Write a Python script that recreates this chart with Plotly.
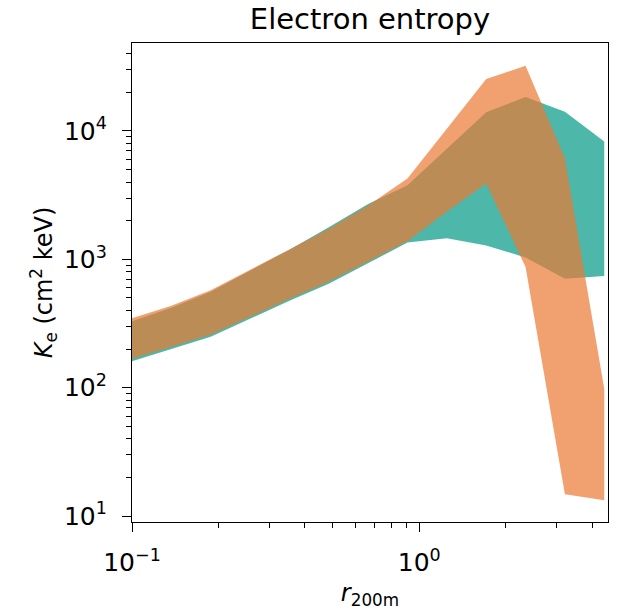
import plotly.graph_objects as go

# radius in units of r_200m
r_vals = [0.1, 0.1371, 0.1879, 0.2576, 0.3532, 0.4842, 0.6637, 0.9099,
          1.2474, 1.7100, 2.3442, 3.2137, 4.4055]

# teal band (lower / upper)
teal_low = [161, 200, 249, 345, 475, 645, 930, 1350, 1460, 1280, 1035, 705, 740]
teal_high = [330, 420, 560, 820, 1190, 1780, 2700, 3780, 7300, 14000, 18400, 14100, 8280]

# orange band (lower / upper)
orange_low = [168, 208, 258, 355, 490, 670, 960, 1380, 2350, 3900, 870, 14.8, 13.3]
orange_high = [347, 435, 575, 835, 1195, 1730, 2620, 4270, 10500, 25400, 32200, 6090, 98]

x_major = [0.1, 1]
x_major_text = ["10<sup>−1</sup>", "10<sup>0</sup>"]
x_minor = [0.2, 0.3, 0.4, 0.5, 0.6, 0.7, 0.8, 0.9, 2, 3, 4]
y_major = [10, 100, 1000, 10000]
y_major_text = ["10<sup>1</sup>", "10<sup>2</sup>", "10<sup>3</sup>", "10<sup>4</sup>"]
y_minor = [m * 10 ** e for e in (1, 2, 3) for m in range(2, 10)] + [20000, 30000, 40000]

FONT = "DejaVu Sans"


def band(x, lo, hi, color):
    return go.Scatter(
        x=list(x) + list(x)[::-1],
        y=list(hi) + list(lo)[::-1],
        fill="toself",
        fillcolor=color,
        line=dict(width=0),
        mode="lines",
        hoverinfo="skip",
        showlegend=False,
    )


fig = go.Figure()
fig.add_trace(band(r_vals, teal_low, teal_high, "rgba(1,152,134,0.7)"))
fig.add_trace(band(r_vals, orange_low, orange_high, "rgba(235,121,51,0.7)"))

axis_common = dict(
    showline=True, linecolor="black", linewidth=1.3, mirror=True,
    ticks="outside", ticklen=9, tickwidth=1.3, tickcolor="black",
    showgrid=False, zeroline=False,
    tickfont=dict(family=FONT, size=25, color="black"),
)

fig.update_layout(
    width=626, height=614,
    margin=dict(l=132, r=18, t=43, b=86),
    paper_bgcolor="white", plot_bgcolor="white",
    title=dict(text="Electron entropy", x=0.5, xref="paper", xanchor="center",
               y=1 - 19 / 614, yref="container", yanchor="middle",
               font=dict(family=FONT, size=29, color="black")),
    xaxis=dict(
        type="log", range=[-1, 0.657],
        tickmode="array", tickvals=x_major, ticktext=x_major_text,
        ticklabelstandoff=9,
        minor=dict(tickvals=x_minor, ticks="outside", ticklen=5, tickwidth=1.1,
                   tickcolor="black", showgrid=False),
        title=dict(text="<i>r</i><sub>200m</sub>", standoff=8,
                   font=dict(family=FONT, size=24, color="black")),
        **axis_common,
    ),
    yaxis=dict(
        type="log", range=[0.954, 4.685],
        tickmode="array", tickvals=y_major, ticktext=y_major_text,
        ticklabelstandoff=10,
        minor=dict(tickvals=y_minor, ticks="outside", ticklen=5, tickwidth=1.1,
                   tickcolor="black", showgrid=False),
        title=dict(text="<i>K</i><sub>e</sub> (cm<sup>2</sup> keV)", standoff=4,
                   font=dict(family=FONT, size=24, color="black")),
        **axis_common,
    ),
)

fig.write_html("out.html")
